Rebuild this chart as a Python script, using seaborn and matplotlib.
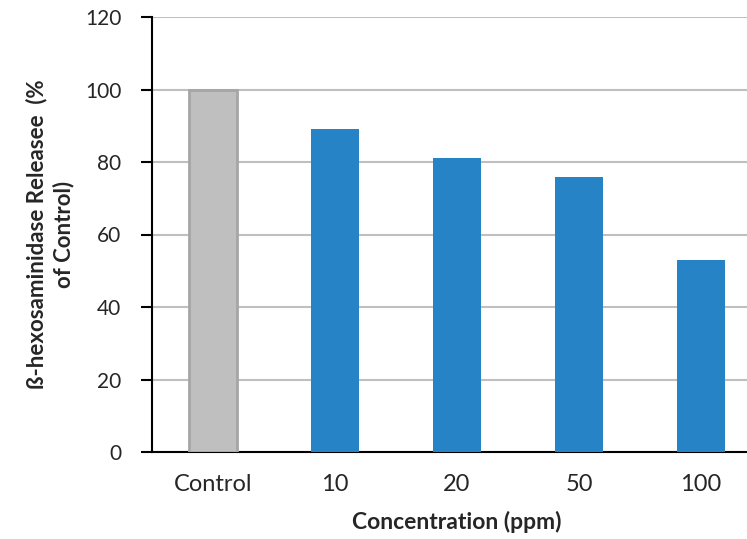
import numpy as np
import pandas as pd
import matplotlib
matplotlib.use("Agg")
import matplotlib.pyplot as plt
import seaborn as sns

# datos
categorias = ["Control", "10", "20", "50", "100"]
valores = [100, 89, 81, 76, 53]
colores = ["#bfbfbf", "#2683c6", "#2683c6", "#2683c6", "#2683c6"]

sns.set_style("white")
plt.rcParams["font.family"] = ["Lato", "DejaVu Sans"]

df = pd.DataFrame({"conc": categorias, "val": valores})

fig = plt.figure(figsize=(7.47, 5.39), dpi=100)
ax = fig.add_axes([152 / 747, 1 - 452 / 539, 610 / 747, 435 / 539])

sns.barplot(data=df, x="conc", y="val", hue="conc", palette=colores,
            legend=False, width=0.40, saturation=1, ax=ax, zorder=3)

# borde del control
for i, p in enumerate(ax.patches):
    if i == 0:
        p.set_edgecolor("#a6a6a6")
        p.set_linewidth(2)
    else:
        p.set_linewidth(0)

ax.set_xlim(-0.5, 4.5)
ax.set_ylim(0, 120)
ax.set_yticks(np.arange(0, 121, 20))
ax.yaxis.grid(True, color="#bfbfbf", linewidth=1.5, zorder=0)
ax.set_axisbelow(True)

for s in ["top", "right"]:
    ax.spines[s].set_visible(False)
for s in ["left", "bottom"]:
    ax.spines[s].set_color("black")
    ax.spines[s].set_linewidth(1.5)

ax.set_xticks(np.arange(-0.5, 5, 1), minor=True)
ax.tick_params(axis="x", which="major", length=0, pad=16, labelsize=17)
ax.tick_params(axis="x", which="minor", length=8, width=1.5, direction="out", color="black")
ax.tick_params(axis="y", length=8, width=1.5, direction="out", color="black", labelsize=15, pad=14)
ax.tick_params(axis="both", left=True, bottom=True)

ax.set_xlabel("Concentration (ppm)", fontsize=16.5, fontweight="bold", labelpad=11)
ax.set_ylabel("ß-hexosaminidase Releasee  (%\nof Control)", fontsize=16,
              fontweight="bold", labelpad=8, linespacing=1.3)

fig.savefig("out.png", dpi=100)
